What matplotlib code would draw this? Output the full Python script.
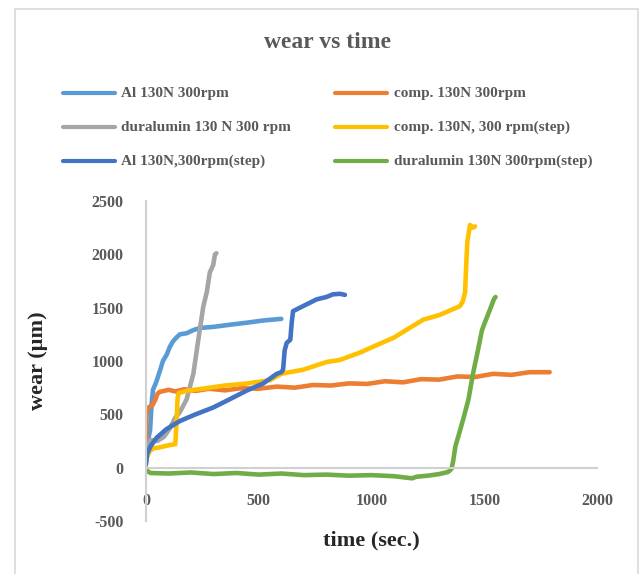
import matplotlib
matplotlib.use("Agg")
import matplotlib.pyplot as plt
from matplotlib.lines import Line2D
from matplotlib.patches import Rectangle

W, H = 641, 574

# series data (time in sec., wear in µm)
al_t = [0, 8, 18, 25, 31, 45, 62, 75, 92, 105, 120, 135, 150, 180, 210, 240, 300, 372, 450, 520, 600]
al_w = [150, 250, 350, 600, 730, 800, 910, 1000, 1060, 1130, 1185, 1220, 1250, 1260, 1290, 1310,
        1320, 1340, 1360, 1380, 1395]

comp_t = [0, 2, 5, 15, 30, 42, 50, 60, 80, 100, 130, 170, 220, 280, 350, 420, 500, 580, 660, 740,
          820, 900, 980, 1060, 1140, 1220, 1300, 1380, 1460, 1540, 1620, 1700, 1790]
comp_w = [230, 480, 550, 570, 590, 640, 690, 710, 720, 730, 715, 735, 720, 740, 725, 745, 740, 760,
          750, 775, 770, 790, 785, 810, 800, 830, 825, 855, 850, 880, 870, 895, 895]

dur_t = [0, 20, 50, 80, 106, 130, 150, 165, 180, 195, 210, 232, 254, 270, 283, 298, 306, 312]
dur_w = [200, 260, 250, 290, 370, 470, 520, 580, 640, 760, 880, 1200, 1510, 1650, 1830, 1900, 2000, 2010]

comps_t = [0, 5, 15, 30, 60, 100, 130, 136, 140, 145, 180, 250, 350, 450, 550, 600, 700, 800, 860,
           950, 1007, 1100, 1156, 1230, 1300, 1392, 1405, 1415, 1420, 1425, 1437, 1450, 1459]
comps_w = [50, 100, 150, 180, 190, 210, 220, 450, 650, 700, 720, 740, 770, 790, 820, 880, 920, 990,
           1010, 1080, 1134, 1220, 1293, 1388, 1430, 1514, 1560, 1644, 1900, 2120, 2275, 2250, 2262]

als_t = [0, 5, 20, 47, 90, 150, 220, 298, 370, 446, 520, 580, 600, 608, 615, 624, 640, 646, 652,
         696, 757, 800, 829, 860, 882]
als_w = [30, 130, 200, 280, 360, 437, 500, 564, 640, 722, 790, 880, 895, 920, 1100, 1170, 1200,
         1356, 1467, 1514, 1578, 1600, 1625, 1630, 1620]

durs_t = [0, 5, 20, 100, 200, 300, 400, 500, 600, 700, 800, 900, 1000, 1100, 1180, 1200, 1250,
          1300, 1340, 1355, 1362, 1372, 1390, 1410, 1430, 1450, 1470, 1490, 1510, 1525, 1543, 1550]
durs_w = [0, -30, -50, -55, -45, -60, -50, -65, -55, -70, -65, -75, -70, -80, -100, -85, -75, -60,
          -40, -10, 60, 200, 330, 480, 640, 880, 1080, 1290, 1400, 1480, 1580, 1600]

SERIES = [
    ("Al 130N 300rpm", al_t, al_w, "#5B9BD5"),
    ("comp. 130N 300rpm", comp_t, comp_w, "#ED7D31"),
    ("duralumin 130 N 300 rpm", dur_t, dur_w, "#A5A5A5"),
    ("comp. 130N, 300 rpm(step)", comps_t, comps_w, "#FFC000"),
    ("Al 130N,300rpm(step)", als_t, als_w, "#4472C4"),
    ("duralumin 130N 300rpm(step)", durs_t, durs_w, "#70AD47"),
]

x_ticks = [0, 500, 1000, 1500, 2000]
y_ticks = [-500, 0, 500, 1000, 1500, 2000, 2500]

plt.rcParams["font.family"] = ["Liberation Serif", "DejaVu Serif"]
plt.rcParams["axes.unicode_minus"] = False


def fx(px):
    return px / W


def fy(py):
    return 1 - py / H


fig = plt.figure(figsize=(W / 100, H / 100), dpi=100)
fig.patch.set_facecolor("white")

# outer chart frame
fig.add_artist(Rectangle((fx(15), fy(580)), fx(638) - fx(15), fy(9) - fy(580),
                         transform=fig.transFigure, fill=False, ec="#D9D9D9", lw=1.2,
                         clip_on=False))

ax = fig.add_axes([fx(146), fy(521), fx(597) - fx(146), fy(201) - fy(521)])
for label, t, w, color in SERIES:
    ax.plot(t, w, color=color, lw=3.3, solid_capstyle="round", solid_joinstyle="round")

ax.set_xlim(0, 2000)
ax.set_ylim(-500, 2500)
ax.set_xticks(x_ticks)
ax.set_yticks(y_ticks)
ax.spines["top"].set_visible(False)
ax.spines["right"].set_visible(False)
ax.spines["bottom"].set_position(("data", 0))
for s in ("left", "bottom"):
    ax.spines[s].set_color("#D0D0D0")
    ax.spines[s].set_linewidth(1.5)
ax.tick_params(axis="x", length=0, pad=18, labelsize=11.5, labelcolor="#595959")
ax.tick_params(axis="y", length=0, pad=16, labelsize=11.5, labelcolor="#595959")
for lab in ax.get_xticklabels() + ax.get_yticklabels():
    lab.set_fontweight("bold")

fig.text(fx(371), fy(540), "time (sec.)", ha="center", va="center", fontsize=16,
         fontweight="bold", color="#262626")
fig.text(fx(38), fy(361), "wear (µm)", ha="center", va="center", rotation=90, fontsize=16,
         fontweight="bold", color="#262626")

fig.text(fx(328), fy(43), "wear vs time", ha="center", va="center", fontsize=17,
         fontweight="bold", color="#595959")

# legend laid out like the spreadsheet one: row-major, two columns
col_line = [(63, 115), (335, 387)]
col_text = [121, 394]
row_y = [93, 127, 161]
for i, (label, _, _, color) in enumerate(SERIES):
    c, r = i % 2, i // 2
    x0, x1 = col_line[c]
    fig.add_artist(Line2D([fx(x0), fx(x1)], [fy(row_y[r]), fy(row_y[r])],
                          transform=fig.transFigure, color=color, lw=3.0,
                          solid_capstyle="round"))
    fig.text(fx(col_text[c]), fy(row_y[r]), label, ha="left", va="center", fontsize=11,
             fontweight="bold", color="#595959")

fig.savefig("out.png", dpi=100)
